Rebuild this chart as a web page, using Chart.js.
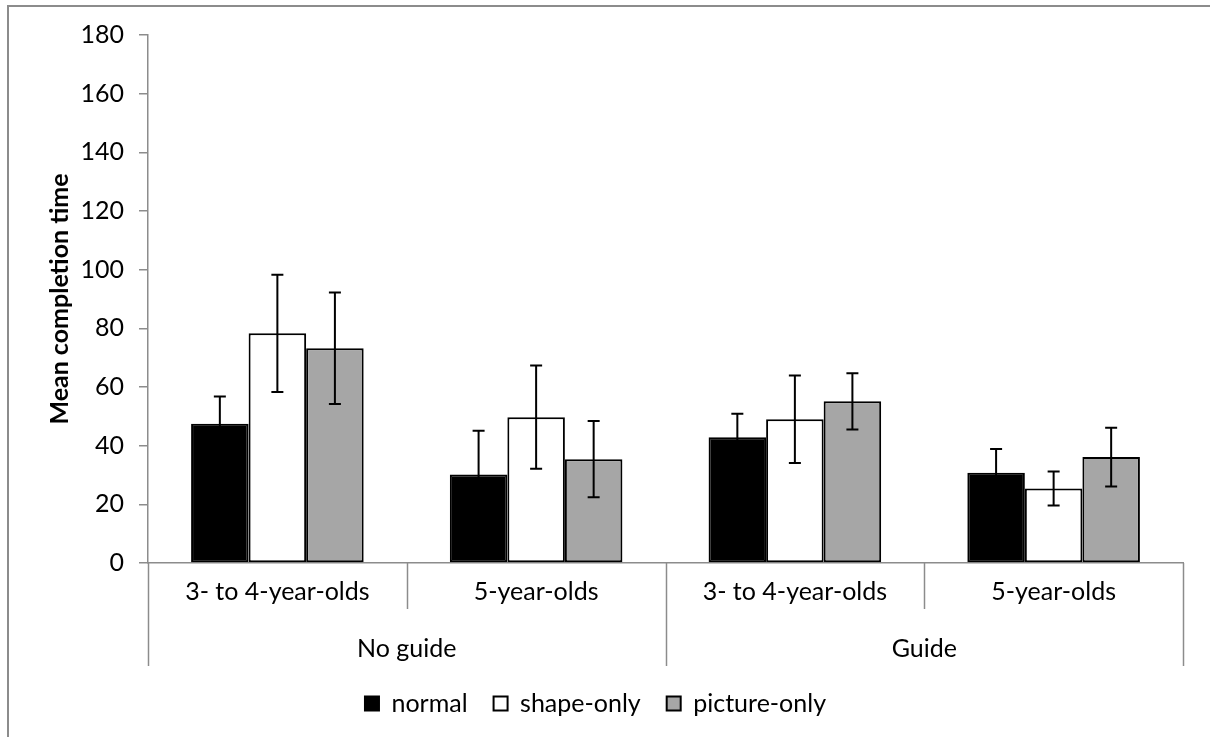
<!DOCTYPE html>
<html>
<head>
<meta charset="utf-8">
<script src="https://cdn.jsdelivr.net/npm/chart.js@4.4.1/dist/chart.umd.min.js"></script>
<style>
  body { margin: 0; background: #fff; }
  #caja { width: 1210px; height: 737px; position: relative; }
</style>
</head>
<body>
<div id="caja"><canvas id="grafico"></canvas></div>
<script>
// datos
var categorias = ['3- to 4-year-olds', '5-year-olds', '3- to 4-year-olds', '5-year-olds'];
var grupos = ['No guide', 'Guide'];
var normal = [47.5, 30.2, 42.9, 30.8];
var errNormal = [9.3, 14.9, 8.0, 8.1];
var shapeOnly = [78.3, 49.7, 49.0, 25.4];
var errShape = [20.0, 17.6, 14.9, 5.8];
var pictureOnly = [73.2, 35.4, 55.1, 36.1];
var errPicture = [19.0, 13.0, 9.6, 10.0];
var ticksY = [0, 20, 40, 60, 80, 100, 120, 140, 160, 180];

var gris = '#8c8c8c';
var fuente = 'Lato, "Open Sans", sans-serif';

// marco gris alrededor
const marco = {
  id: 'marco',
  beforeDraw(chart) {
    const ctx = chart.ctx;
    ctx.save();
    ctx.strokeStyle = gris;
    ctx.lineWidth = 2;
    ctx.strokeRect(8, 6, 1400, 900);
    ctx.restore();
  }
};

// barras de error
const barrasError = {
  id: 'barrasError',
  afterDatasetsDraw(chart) {
    const ctx = chart.ctx;
    const ys = chart.scales.y;
    ctx.save();
    ctx.strokeStyle = '#000';
    ctx.lineWidth = 2;
    chart.data.datasets.forEach((ds, i) => {
      const meta = chart.getDatasetMeta(i);
      meta.data.forEach((bar, j) => {
        const v = ds.data[j];
        const e = ds.errores[j];
        const y1 = ys.getPixelForValue(v + e);
        const y2 = ys.getPixelForValue(v - e);
        ctx.beginPath();
        ctx.moveTo(bar.x, y1); ctx.lineTo(bar.x, y2);
        ctx.moveTo(bar.x - 6, y1); ctx.lineTo(bar.x + 6, y1);
        ctx.moveTo(bar.x - 6, y2); ctx.lineTo(bar.x + 6, y2);
        ctx.stroke();
      });
    });
    ctx.restore();
  }
};

// etiquetas de dos niveles en el eje x
const ejeGrupos = {
  id: 'ejeGrupos',
  afterDraw(chart) {
    const ctx = chart.ctx;
    const xs = chart.scales.x;
    const abajo = chart.chartArea.bottom;
    const borde = (i) => {
      if (i <= 0) return xs.left;
      if (i >= categorias.length) return xs.right;
      return (xs.getPixelForValue(i - 1) + xs.getPixelForValue(i)) / 2;
    };
    ctx.save();
    ctx.strokeStyle = gris;
    ctx.lineWidth = 1.5;
    for (let i = 0; i <= categorias.length; i++) {
      const x = Math.round(borde(i)) + 0.5;
      const largo = (i % 2 === 0) ? 103 : 46;
      ctx.beginPath();
      ctx.moveTo(x, abajo);
      ctx.lineTo(x, abajo + largo);
      ctx.stroke();
    }
    ctx.fillStyle = '#000';
    ctx.font = '25px ' + fuente;
    ctx.textAlign = 'center';
    ctx.textBaseline = 'middle';
    grupos.forEach((g, k) => {
      const x = (borde(2 * k) + borde(2 * k + 2)) / 2;
      ctx.fillText(g, x, abajo + 86);
    });
    ctx.restore();
  }
};

const ctx = document.getElementById('grafico');
let grafico = new Chart(ctx, {
  type: 'bar',
  data: {
    labels: categorias,
    datasets: [{
      label: 'normal',
      data: normal,
      errores: errNormal,
      backgroundColor: '#000',
      borderColor: '#000',
      borderWidth: 2,
      borderSkipped: false
    }, {
      label: 'shape-only',
      data: shapeOnly,
      errores: errShape,
      backgroundColor: '#fff',
      borderColor: '#000',
      borderWidth: 2,
      borderSkipped: false
    }, {
      label: 'picture-only',
      data: pictureOnly,
      errores: errPicture,
      backgroundColor: '#a6a6a6',
      borderColor: '#000',
      borderWidth: 2,
      borderSkipped: false
    }]
  },
  options: {
    responsive: true,
    maintainAspectRatio: false,
    animation: false,
    categoryPercentage: 0.667,
    barPercentage: 1,
    layout: { padding: { left: 8, top: 35, right: 27, bottom: 11 } },
    plugins: {
      tooltip: { enabled: false },
      legend: {
        position: 'bottom',
        labels: {
          boxWidth: 14,
          boxHeight: 14,
          padding: 26,
          color: '#000',
          font: { family: fuente, size: 25 }
        }
      }
    },
    scales: {
      x: {
        afterFit(scale) { scale.height = 102; },
        grid: { display: false },
        border: { display: true, color: gris, width: 1.5 },
        ticks: {
          color: '#000',
          padding: 6,
          maxRotation: 0,
          font: { family: fuente, size: 25 }
        }
      },
      y: {
        min: 0,
        max: 180,
        afterFit(scale) { scale.width = 140; },
        afterBuildTicks(scale) { scale.ticks = ticksY.map(v => ({ value: v })); },
        grid: { drawOnChartArea: false, drawTicks: true, tickLength: 9, color: gris, lineWidth: 1.5 },
        border: { display: true, color: gris, width: 1.5 },
        ticks: {
          color: '#000',
          padding: 15,
          font: { family: fuente, size: 25 }
        },
        title: {
          display: true,
          text: 'Mean completion time',
          color: '#000',
          padding: { top: 37, bottom: 0 },
          font: { family: fuente, size: 25, weight: 'bold' }
        }
      }
    }
  },
  plugins: [marco, barrasError, ejeGrupos]
});
</script>
</body>
</html>
